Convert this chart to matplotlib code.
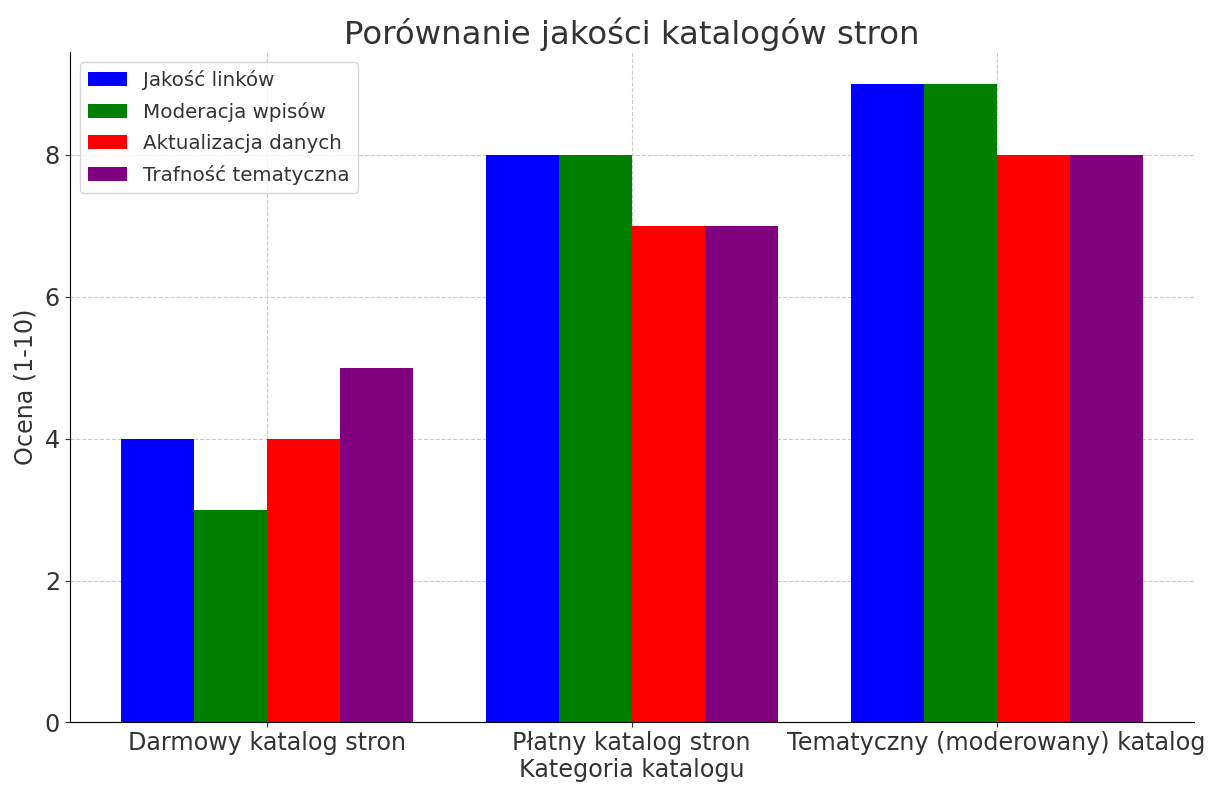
import matplotlib
matplotlib.use("Agg")
import matplotlib.pyplot as plt
import numpy as np

categories = ["Darmowy katalog stron", "Płatny katalog stron", "Tematyczny (moderowany) katalog"]
series_names = ["Jakość linków", "Moderacja wpisów", "Aktualizacja danych", "Trafność tematyczna"]
jakosc_linkow = [4, 8, 9]
moderacja_wpisow = [3, 8, 9]
aktualizacja_danych = [4, 7, 8]
trafnosc_tematyczna = [5, 7, 8]
colors = ["blue", "green", "red", "purple"]

TEXT = "#333333"
plt.rcParams["text.color"] = TEXT
plt.rcParams["axes.labelcolor"] = TEXT
plt.rcParams["xtick.color"] = TEXT
plt.rcParams["ytick.color"] = TEXT

fig, ax = plt.subplots(figsize=(12.23, 8), dpi=100)

x = np.arange(len(categories))
width = 0.2
values = [jakosc_linkow, moderacja_wpisow, aktualizacja_danych, trafnosc_tematyczna]
for i, (name, vals, col) in enumerate(zip(series_names, values, colors)):
    ax.bar(x + (i - 1.5) * width, vals, width, label=name, color=col, zorder=2)

ax.set_xticks(x)
ax.set_xticklabels(categories, fontsize=17.2)
ax.tick_params(axis="y", labelsize=17.2)
ax.tick_params(axis="x", pad=2.5)
ax.set_xlabel("Kategoria katalogu", fontsize=17.2, labelpad=2)
ax.set_ylabel("Ocena (1-10)", fontsize=17.2, labelpad=5)
ax.set_title("Porównanie jakości katalogów stron", fontsize=23.3)

ax.grid(True, linestyle="--", color="#cccccc", linewidth=0.8, zorder=0)
ax.spines["top"].set_visible(False)
ax.spines["right"].set_visible(False)

ax.legend(loc="upper left", fontsize=14.3, handlelength=2.0, labelspacing=0.6)

plt.subplots_adjust(left=0.057, right=0.976, top=0.935, bottom=0.097)
plt.savefig("out.png")
